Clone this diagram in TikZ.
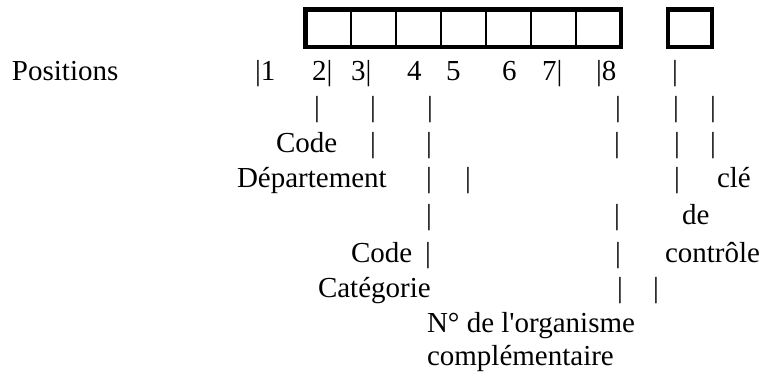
\documentclass[tikz,border=0pt]{standalone}
\usepackage{fontspec}
\setmainfont{Liberation Serif}[Ligatures=TeXOff]
\newcommand\tnrsize{\fontsize{29}{35}\selectfont}
\tikzset{
  wordtxt/.style={inner sep=0pt, outer sep=0pt, anchor=base west, font=\tnrsize},
  bartxt/.style={inner sep=0pt, outer sep=0pt, anchor=base, font=\tnrsize},
  frame/.style={draw=black, line width=4.3pt},
  divider/.style={draw=black, line width=1.8pt}
}
\begin{document}
\begin{tikzpicture}[x=1pt, y=-1pt]
\useasboundingbox (0,0) rectangle (765,376);
% boxes
\draw[divider] (350.6,9.5) -- (350.6,47);
\draw[divider] (395.6,9.5) -- (395.6,47);
\draw[divider] (440.7,9.5) -- (440.7,47);
\draw[divider] (485.8,9.5) -- (485.8,47);
\draw[divider] (530.9,9.5) -- (530.9,47);
\draw[divider] (575.9,9.5) -- (575.9,47);
\draw[frame] (305.5,9.5) rectangle (621,47);
\draw[frame] (668,9.5) rectangle (712,47);
% row 0
\node[wordtxt] (pos) at (12,80) {Positions};
\node[wordtxt] (p1) at (255,80) {|1};
\node[wordtxt] (p2) at (312,80) {2|};
\node[wordtxt] (p3) at (351,80) {3|};
\node[wordtxt] (p4) at (407,80) {4};
\node[wordtxt] (p5) at (446,80) {5};
\node[wordtxt] (p6) at (502,80) {6};
\node[wordtxt] (p7) at (542,80) {7|};
\node[wordtxt] (p8) at (596,80) {|8};
\node[bartxt] (p9) at (675,80) {|};
% row 1
\node[bartxt] (r1a) at (317,116) {|};
\node[bartxt] (r1b) at (373,116) {|};
\node[bartxt] (r1c) at (430,116) {|};
\node[bartxt] (r1d) at (618,116) {|};
\node[bartxt] (r1e) at (676,116) {|};
\node[bartxt] (r1f) at (713,116) {|};
% row 2
\node[wordtxt] (code1) at (276,152) {Code};
\node[bartxt] (r2a) at (373,152) {|};
\node[bartxt] (r2b) at (429,152) {|};
\node[bartxt] (r2c) at (617,152) {|};
\node[bartxt] (r2d) at (677,152) {|};
\node[bartxt] (r2e) at (713,152) {|};
% row 3
\node[wordtxt] (dep) at (237,187) {Département};
\node[bartxt] (r3a) at (429,187) {|};
\node[bartxt] (r3b) at (468,187) {|};
\node[bartxt] (r3c) at (677,187) {|};
\node[wordtxt] (cle) at (717,187) {clé};
% row 4
\node[bartxt] (r4a) at (429,224) {|};
\node[bartxt] (r4b) at (617,224) {|};
\node[wordtxt] (de) at (682,224) {de};
% row 5
\node[wordtxt] (code2) at (351,262) {Code};
\node[bartxt] (r5a) at (428,262) {|};
\node[bartxt] (r5b) at (618,262) {|};
\node[wordtxt] (ctrl) at (665,262) {contrôle};
% row 6
\node[wordtxt] (cat) at (318,297) {Catégorie};
\node[bartxt] (r6a) at (620,297) {|};
\node[bartxt] (r6b) at (656,297) {|};
% row 7, 8
\node[wordtxt] (num) at (427,332) {N° de l'organisme};
\node[wordtxt] (comp) at (427,365) {complémentaire};
\end{tikzpicture}
\end{document}
